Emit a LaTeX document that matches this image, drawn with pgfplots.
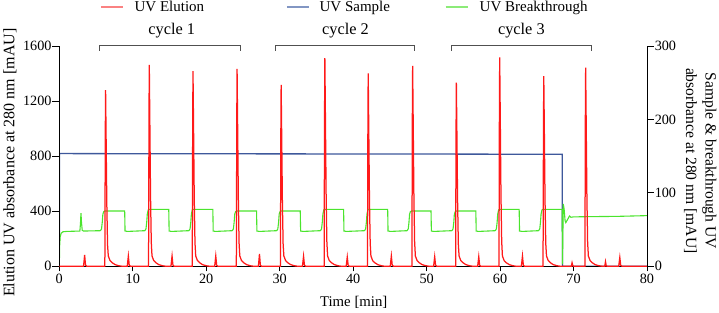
\documentclass[border=0pt]{standalone}
\usepackage{fontspec}
\setmainfont{Liberation Serif}
\usepackage{pgfplots}
\pgfplotsset{compat=1.18}
\definecolor{redc}{RGB}{255,25,25}
\definecolor{bluec}{RGB}{62,88,155}
\definecolor{greenc}{RGB}{75,228,45}
\definecolor{redl}{RGB}{250,130,130}
\definecolor{bluel}{RGB}{130,150,195}
\definecolor{greenl}{RGB}{140,235,120}
\definecolor{brc}{RGB}{80,80,80}
\begin{document}
\begin{tikzpicture}
\path[use as bounding box] (-59.3bp,-46.7bp) rectangle (659.7bp,266.3bp);
% ---------- right axis: sample & breakthrough ----------
\begin{axis}[
  scale only axis, width=587.7bp, height=220.3bp,
  xmin=0, xmax=80, ymin=0, ymax=300,
  axis x line=none, axis y line*=right,
  ytick={0,100,200,300},
  tick align=outside,
  ytick style={black, line width=0.8bp, /pgfplots/major tick length=7bp},
  axis line style={black, line width=0.8bp},
  /pgf/number format/assume math mode=true,
  tick label style={font=\fontsize{14.2bp}{16bp}\selectfont},
  ylabel={Sample \& breakthrough UV\\absorbance at 280 nm [mAU]},
  ylabel style={at={(axis description cs:1.0905,0.479)}, anchor=center, rotate=180, align=center,
    font=\fontsize{15.6bp}{19.5bp}\selectfont},
]
\addplot[bluec, line width=1.3bp] coordinates {
(0,0)(0.03,153.5)(20,153.2)(40,153)(60,152.7)(68.45,152.5)(68.5,0)(80,0)};
\addplot[greenc, line width=1.1bp] coordinates {
(0,0)(0.05,28)(0.12,40)(0.25,45)(0.5,47)(1,47.5)(2.8,48)(2.88,58)(2.95,72.5)(3.02,60)(3.12,49)(3.3,48)
(5.6,48.5)(5.75,51)(5.85,60)(5.93,71)(6.05,74.5)(6.2,75.3)(8.9,75.3)(8.95,48)(9.3,47.5)
(11.65,48.5)(11.8,51)(11.9,60)(11.98,71)(12.1,76.8)(12.25,77.6)(14.9,77.6)(14.95,48)(15.3,47.5)
(17.65,48.5)(17.8,51)(17.9,60)(17.98,71)(18.1,76.8)(18.25,77.6)(20.9,77.6)(20.95,48)(21.3,47.5)
(23.55,48.5)(23.7,51)(23.8,60)(23.88,71)(24.0,74.5)(24.15,75.3)(26.85,75.3)(26.9,48)(27.25,47.5)
(29.6,48.5)(29.75,51)(29.85,60)(29.93,71)(30.05,74.5)(30.2,75.3)(32.8,75.3)(32.85,48)(33.2,47.5)
(35.55,48.5)(35.7,51)(35.8,60)(35.88,71)(36.0,76.8)(36.15,77.6)(38.7,77.6)(38.75,48)(39.1,47.5)
(41.55,48.5)(41.7,51)(41.8,60)(41.88,71)(42.0,76.8)(42.15,77.6)(44.7,77.6)(44.75,48)(45.1,47.5)
(47.35,48.5)(47.5,51)(47.6,60)(47.68,71)(47.8,74.5)(47.95,75.3)(50.6,75.3)(50.65,48)(51.0,47.5)
(53.45,48.5)(53.6,51)(53.7,60)(53.78,71)(53.9,74.5)(54.05,75.3)(56.7,75.3)(56.75,48)(57.1,47.5)
(59.35,48.5)(59.5,51)(59.6,60)(59.68,71)(59.8,76.8)(59.95,77.6)(62.6,77.6)(62.65,48)(63.0,47.5)
(65.25,48.5)(65.4,51)(65.5,60)(65.58,71)(65.7,76.8)(65.85,77.6)(68.45,77.6)
(68.5,3)(68.6,85)(68.72,78)(68.85,62)(68.95,59.5)(69.15,63)(69.45,68.5)(69.65,66.8)(70.0,67.3)(72,67.6)(76,68)(80,69)};
\end{axis}
% ---------- left axis: elution ----------
\begin{axis}[
  scale only axis, width=587.7bp, height=220.3bp,
  xmin=0, xmax=80, ymin=0, ymax=1600,
  axis x line*=bottom, axis y line*=left,
  xtick={0,10,...,80}, ytick={0,400,800,1200,1600},
  tick align=outside,
  xtick style={black, line width=0.8bp, /pgfplots/major tick length=5bp},
  ytick style={black, line width=0.8bp, /pgfplots/major tick length=7bp},
  axis line style={black, line width=0.8bp},
  /pgf/number format/assume math mode=true,
  /pgf/number format/1000 sep={},
  tick label style={font=\fontsize{14.2bp}{16bp}\selectfont},
  clip=false,
  xlabel={Time [min]},
  xlabel style={at={(axis description cs:0.501,-0.162)}, anchor=center, font=\fontsize{14.8bp}{16bp}\selectfont},
  ylabel={Elution UV absorbance at 280 nm [mAU]},
  ylabel style={at={(axis description cs:-0.0839,0.47)}, anchor=center, font=\fontsize{16bp}{18bp}\selectfont},
  legend columns=3,
  legend image code/.code={\draw[#1, line width=1.4bp] (0bp,0bp) -- (22bp,0bp);},
  legend style={at={(axis description cs:0.0693,1.177)}, anchor=west, draw=none, fill=none,
    inner sep=0pt, column sep=0pt, nodes={inner sep=0pt},
    font=\fontsize{15bp}{17bp}\selectfont,
    /tikz/column 1/.style={column sep=11bp},
    /tikz/column 2/.style={column sep=82bp},
    /tikz/column 3/.style={column sep=10bp},
    /tikz/column 4/.style={column sep=55bp},
    /tikz/column 5/.style={column sep=11.3bp}},
]
\addlegendimage{draw=redl, color=redl}
\addlegendentry{UV Elution}
\addlegendimage{draw=bluel, color=bluel}
\addlegendentry{UV Sample}
\addlegendimage{draw=greenl, color=greenl}
\addlegendentry{UV Breakthrough}
\addplot[redc, line width=1.25bp, forget plot] coordinates {
(0,0)(3.30,0)(3.45,82)(3.57,8)(3.75,0)
(6.2,0)(6.26,960)(6.3,1280)(6.38,896)(6.47,448)(6.57,154)(6.67,75)(6.9,42)(7.2,26)(7.6,12)(8.1,4)(8.6,0)
(9.25,0)(9.4,75)(9.52,8)(9.7,0)
(12.15,0)(12.21,1097)(12.25,1462)(12.33,1023)(12.42,512)(12.52,175)(12.62,75)(12.85,42)(13.15,26)(13.55,12)(14.05,4)(14.55,0)
(15.2,0)(15.35,75)(15.47,8)(15.65,0)
(18.1,0)(18.16,1064)(18.2,1418)(18.28,993)(18.37,496)(18.47,170)(18.57,75)(18.8,42)(19.1,26)(19.5,12)(20.0,4)(20.5,0)
(21.15,0)(21.3,75)(21.42,8)(21.6,0)
(24.1,0)(24.16,1075)(24.2,1433)(24.28,1003)(24.37,502)(24.47,172)(24.57,75)(24.8,42)(25.1,26)(25.5,12)(26.0,4)(26.5,0)
(27.1,0)(27.25,89)(27.37,8)(27.55,0)
(30.1,0)(30.16,988)(30.2,1317)(30.28,922)(30.37,461)(30.47,158)(30.57,75)(30.8,42)(31.1,26)(31.5,12)(32.0,4)(32.5,0)
(33.1,0)(33.25,73)(33.37,8)(33.55,0)
(36.05,0)(36.11,1133)(36.15,1511)(36.23,1058)(36.32,529)(36.42,181)(36.52,75)(36.75,42)(37.05,26)(37.45,12)(37.95,4)(38.45,0)
(39.05,0)(39.2,68)(39.32,8)(39.5,0)
(41.95,0)(42.01,1052)(42.05,1402)(42.13,981)(42.22,491)(42.32,168)(42.42,75)(42.65,42)(42.95,26)(43.35,12)(43.85,4)(44.35,0)
(45.05,0)(45.2,75)(45.32,8)(45.5,0)
(48.0,0)(48.06,1091)(48.1,1455)(48.18,1019)(48.27,509)(48.37,175)(48.47,75)(48.7,42)(49.0,26)(49.4,12)(49.9,4)(50.4,0)
(50.95,0)(51.1,70)(51.22,8)(51.4,0)
(53.95,0)(54.01,1001)(54.05,1334)(54.13,934)(54.22,467)(54.32,160)(54.42,75)(54.65,42)(54.95,26)(55.35,12)(55.85,4)(56.35,0)
(56.95,0)(57.1,70)(57.22,8)(57.4,0)
(59.85,0)(59.91,1139)(59.95,1518)(60.03,1063)(60.12,531)(60.22,182)(60.32,75)(60.55,42)(60.85,26)(61.25,12)(61.75,4)(62.25,0)
(62.9,0)(63.05,75)(63.17,8)(63.35,0)
(65.85,0)(65.91,1037)(65.95,1382)(66.03,967)(66.12,484)(66.22,166)(66.32,75)(66.55,42)(66.85,26)(67.25,12)(67.75,4)(68.25,0)
(69.7,0)(69.8,26)(69.9,4)(70.05,0)
(71.55,0)(71.61,1082)(71.65,1442)(71.73,1009)(71.82,505)(71.92,173)(72.02,75)(72.25,42)(72.55,26)(72.95,12)(73.45,4)(73.95,0)
(74.25,0)(74.35,34)(74.45,4)(74.6,0)
(76.15,0)(76.3,65)(76.42,8)(76.6,0)(80,0)};
% cycle brackets
\draw[brc, line width=1bp] (axis cs:5.5,1567) -- (axis cs:5.5,1600) -- (axis cs:24.7,1600) -- (axis cs:24.7,1567);
\draw[brc, line width=1bp] (axis cs:29.4,1567) -- (axis cs:29.4,1600) -- (axis cs:48.4,1600) -- (axis cs:48.4,1567);
\draw[brc, line width=1bp] (axis cs:53.4,1567) -- (axis cs:53.4,1600) -- (axis cs:72.4,1600) -- (axis cs:72.4,1567);
\node[font=\fontsize{16.3bp}{18bp}\selectfont, anchor=center, yshift=15bp] at (axis cs:15.3,1600) {cycle 1};
\node[font=\fontsize{16.3bp}{18bp}\selectfont, anchor=center, yshift=15bp] at (axis cs:38.95,1600) {cycle 2};
\node[font=\fontsize{16.3bp}{18bp}\selectfont, anchor=center, yshift=15bp] at (axis cs:62.9,1600) {cycle 3};
\end{axis}
\end{tikzpicture}
\end{document}
